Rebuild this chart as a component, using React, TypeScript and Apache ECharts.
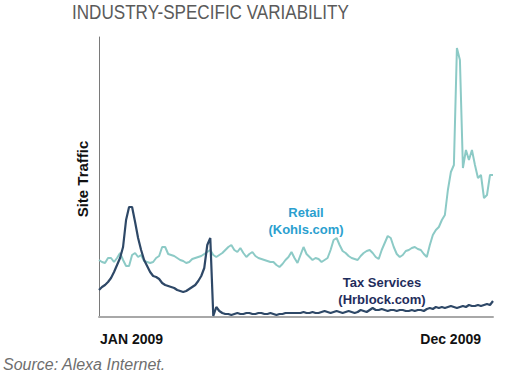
import React, { useEffect, useRef } from "react";
import * as echarts from "echarts";

const title = "INDUSTRY-SPECIFIC VARIABILITY";
const yAxisTitle = "Site Traffic";
const source = "Source: Alexa Internet.";
const tickLabels = ["JAN 2009", "Dec 2009"];
const retailLabel = ["Retail", "(Kohls.com)"];
const taxLabel = ["Tax Services", "(Hrblock.com)"];

// Site traffic index, sampled evenly through 2009
const retail = [
  57, 55, 54, 59, 59, 55, 59, 64, 57, 51,
  51, 62, 64, 60, 62, 56, 55, 54, 55, 59,
  61, 70, 70, 63, 62, 61, 59, 57, 56, 54,
  55, 58, 59, 60, 61, 63, 65, 67, 62, 60,
  62, 64, 67, 70, 72, 67, 65, 69, 64, 60,
  63, 65, 61, 59, 58, 57, 56, 55, 55, 52,
  50, 53, 57, 60, 65, 59, 54, 62, 70, 63,
  60, 57, 59, 58, 55, 57, 59, 67, 77, 79,
  72, 66, 64, 61, 59, 58, 57, 61, 64, 66,
  67, 64, 60, 58, 67, 74, 81, 79, 70, 63,
  60, 62, 66, 67, 69, 70, 68, 67, 63, 60,
  72, 82, 87, 90, 97, 102, 127, 145, 152, 269,
  257, 149, 167, 157, 167, 152, 139, 142, 119, 122,
  142, 142,
];

const tax = [
  27, 30, 32, 35, 39, 45, 52, 59, 70, 97,
  110, 110, 95, 79, 67, 57, 51, 45, 41, 40,
  38, 34, 32, 31, 30, 29, 27, 26, 25, 26,
  28, 30, 32, 36, 41, 49, 72, 79, 1, 10,
  6, 4, 3, 3, 2, 3, 4, 3, 3, 4,
  4, 3, 3, 4, 4, 3, 3, 4, 3, 2,
  3, 3, 4, 4, 4, 4, 4, 4, 5, 4,
  4, 5, 4, 4, 5, 6, 5, 4, 5, 6,
  5, 4, 5, 6, 5, 4, 5, 7, 6, 5,
  7, 9, 7, 7, 8, 7, 6, 7, 7, 6,
  7, 7, 6, 6, 7, 6, 7, 7, 6, 8,
  9, 8, 10, 9, 10, 9, 10, 11, 10, 9,
  10, 11, 10, 12, 11, 11, 12, 11, 12, 13,
  12, 16,
];

const categories = retail.map((_, i) => String(i));

export default function App() {
  const ref = useRef<HTMLDivElement>(null);
  useEffect(() => {
    if (!ref.current) return;
    const chart = echarts.init(ref.current, null, { renderer: "svg" });
    const boldFont = "Liberation Sans, Arial, sans-serif";
    chart.setOption({
      animation: false,
      backgroundColor: "#ffffff",
      grid: { left: 99, right: 15, top: 37, bottom: 60 },
      xAxis: {
        type: "category",
        data: categories,
        boundaryGap: false,
        axisLine: { show: true, lineStyle: { color: "#a8a8a8", width: 2 } },
        axisTick: { show: false },
        axisLabel: { show: false },
        splitLine: { show: false },
      },
      yAxis: {
        type: "value",
        min: 0,
        max: 280,
        axisLine: { show: true, lineStyle: { color: "#7a7a7a", width: 1 } },
        axisTick: { show: false },
        axisLabel: { show: false },
        splitLine: { show: false },
      },
      series: [
        {
          name: "Retail (Kohls.com)",
          type: "line",
          data: retail,
          symbol: "none",
          lineStyle: { color: "#8ccac6", width: 2 },
          z: 2,
        },
        {
          name: "Tax Services (Hrblock.com)",
          type: "line",
          data: tax,
          symbol: "none",
          lineStyle: { color: "#2e4867", width: 2.2 },
          z: 3,
        },
      ],
      graphic: [
        {
          type: "text",
          x: 72,
          y: 12,
          scaleX: 0.855,
          style: {
            text: title,
            fill: "#5a5a5a",
            font: "normal 20px 'Liberation Sans', Arial, sans-serif",
            align: "left",
            verticalAlign: "middle",
          },
        },
        {
          type: "text",
          x: 82,
          y: 179,
          rotation: Math.PI / 2,
          style: {
            text: yAxisTitle,
            fill: "#111111",
            font: `bold 15px ${boldFont}`,
            align: "center",
            verticalAlign: "middle",
          },
        },
        {
          type: "text",
          x: 100,
          y: 339,
          style: {
            text: tickLabels[0],
            fill: "#111111",
            font: `bold 14px ${boldFont}`,
            align: "left",
            verticalAlign: "middle",
          },
        },
        {
          type: "text",
          x: 481,
          y: 339,
          style: {
            text: tickLabels[1],
            fill: "#111111",
            font: `bold 14px ${boldFont}`,
            align: "right",
            verticalAlign: "middle",
          },
        },
        {
          type: "text",
          x: 306,
          y: 221,
          style: {
            text: retailLabel.join("\n"),
            fill: "#2b9fcf",
            font: `bold 13px ${boldFont}`,
            lineHeight: 17,
            align: "center",
            verticalAlign: "middle",
          },
        },
        {
          type: "text",
          x: 382,
          y: 291,
          style: {
            text: taxLabel.join("\n"),
            fill: "#1f2d5c",
            font: `bold 13px ${boldFont}`,
            lineHeight: 17,
            align: "center",
            verticalAlign: "middle",
          },
        },
        {
          type: "text",
          x: 3,
          y: 364,
          style: {
            text: source,
            fill: "#6e6e6e",
            font: `italic 16px ${boldFont}`,
            align: "left",
            verticalAlign: "middle",
          },
        },
      ],
    });
    return () => chart.dispose();
  }, []);
  return (
    <div
      ref={ref}
      style={{ position: "fixed", left: 0, top: 0, width: 508, height: 377 }}
    />
  );
}
